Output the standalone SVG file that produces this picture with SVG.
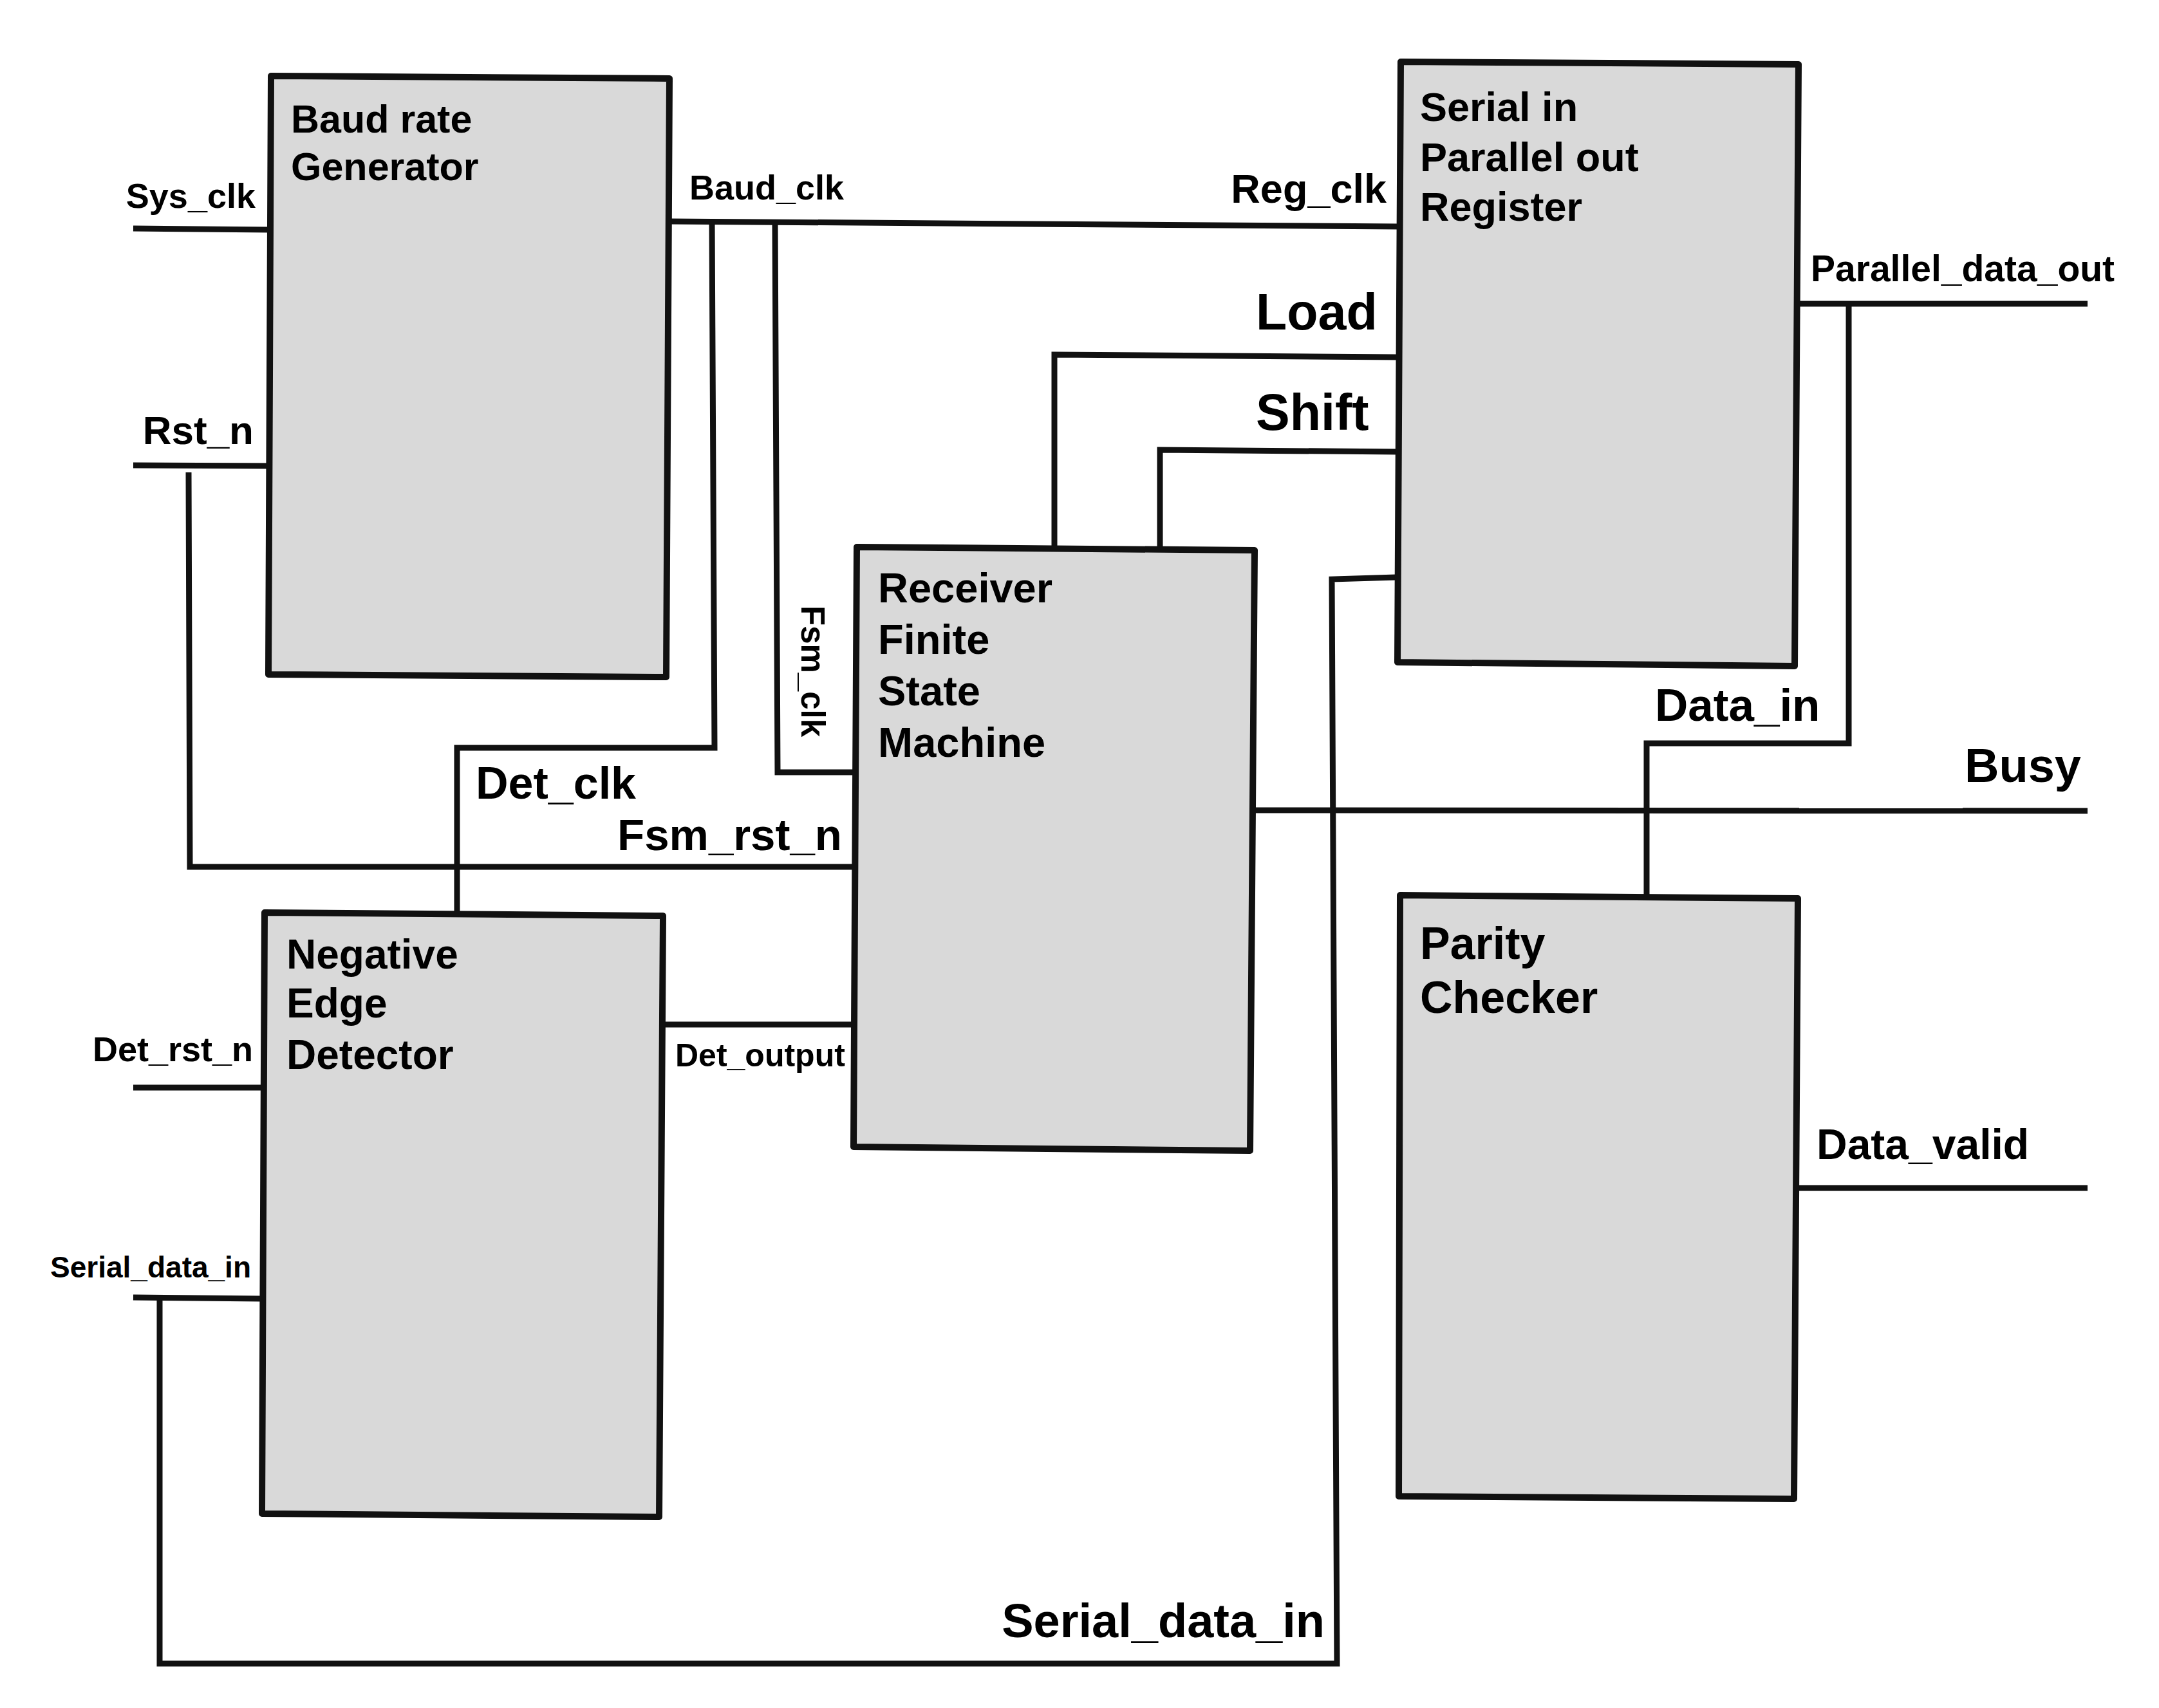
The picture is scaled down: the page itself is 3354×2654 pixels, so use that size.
<svg xmlns="http://www.w3.org/2000/svg" width="3354" height="2654" viewBox="0 0 3354 2654">
<style>
.box{fill:#d9d9d9;stroke:#111;stroke-width:10;stroke-linejoin:round}
.w{fill:none;stroke:#111;stroke-width:9;stroke-linejoin:miter}
text{font-family:"Liberation Sans",Arial,sans-serif;font-weight:bold;fill:#000}
.e{text-anchor:end}
</style>
<rect width="3354" height="2654" fill="#fff"/>
<g id="connectors">
<path class="w" d="M207,355 L421,357"/>
<path class="w" d="M207,723 L418,724"/>
<path class="w" d="M293,734 L295,1347 L1328,1347"/>
<path class="w" d="M1040,344 L2173,352"/>
<path class="w" d="M1106,344 L1110,1162 L710,1162 L710,1419"/>
<path class="w" d="M1204,345 L1208,1200 L1330,1200"/>
<path class="w" d="M2171,555 L1638,551 L1638,852"/>
<path class="w" d="M2171,702 L1802,699 L1802,853"/>
<path class="w" d="M2169,897 L2069,900 L2077,2585 L248,2585 L248,2017"/>
<path class="w" d="M207,2016 L407,2018"/>
<path class="w" d="M207,1690 L409,1690"/>
<path class="w" d="M1027,1592 L1328,1592"/>
<path class="w" d="M1946,1259 L3243,1260"/>
<path class="w" d="M2791,472 L3243,472"/>
<path class="w" d="M2872,472 L2872,1155 L2558,1155 L2558,1394"/>
<path class="w" d="M2789,1846 L3243,1846"/>
</g>
<g id="labels">
<text x="397" y="323" font-size="54" class="e">Sys_clk</text>
<text x="394" y="690" font-size="62" class="e">Rst_n</text>
<text x="1071" y="310" font-size="54">Baud_clk</text>
<text x="2154" y="315" font-size="63" class="e">Reg_clk</text>
<text x="1951" y="512" font-size="79">Load</text>
<text x="1951" y="668" font-size="79">Shift</text>
<text x="2813" y="437" font-size="57">Parallel_data_out</text>
<text transform="translate(1245,941) rotate(90)" font-size="51">Fsm_clk</text>
<text x="739" y="1241" font-size="70">Det_clk</text>
<text x="1308" y="1321" font-size="69" class="e">Fsm_rst_n</text>
<text x="2571" y="1120" font-size="71">Data_in</text>
<text x="3233" y="1215" font-size="74" class="e">Busy</text>
<text x="393" y="1649" font-size="54" class="e">Det_rst_n</text>
<text x="1049" y="1657" font-size="50">Det_output</text>
<text x="2822" y="1801" font-size="66">Data_valid</text>
<text x="390" y="1985" font-size="46" class="e">Serial_data_in</text>
<text x="2058" y="2544" font-size="74" class="e">Serial_data_in</text>
</g>
<g id="baud_rate_generator">
<polygon class="box" points="421,118 1040,122 1035,1052 417,1048"/>
<text x="452" y="206" font-size="61">Baud rate</text>
<text x="452" y="280" font-size="61">Generator</text>
</g>
<g id="sipo_register">
<polygon class="box" points="2176,96 2794,100 2788,1035 2171,1029"/>
<text x="2206" y="188" font-size="63">Serial in</text>
<text x="2206" y="266" font-size="63">Parallel out</text>
<text x="2206" y="343" font-size="63">Register</text>
</g>
<g id="receiver_fsm">
<polygon class="box" points="1331,850 1949,855 1942,1788 1326,1782"/>
<text x="1364" y="936" font-size="65">Receiver</text>
<text x="1364" y="1016" font-size="65">Finite</text>
<text x="1364" y="1096" font-size="65">State</text>
<text x="1364" y="1176" font-size="65">Machine</text>
</g>
<g id="negative_edge_detector">
<polygon class="box" points="411,1418 1030,1423 1024,2357 407,2352"/>
<text x="445" y="1505" font-size="64">Negative</text>
<text x="445" y="1581" font-size="64">Edge</text>
<text x="445" y="1661" font-size="64">Detector</text>
</g>
<g id="parity_checker">
<polygon class="box" points="2175,1391 2793,1396 2787,2329 2173,2325"/>
<text x="2206" y="1490" font-size="70">Parity</text>
<text x="2206" y="1574" font-size="70">Checker</text>
</g>
</svg>
